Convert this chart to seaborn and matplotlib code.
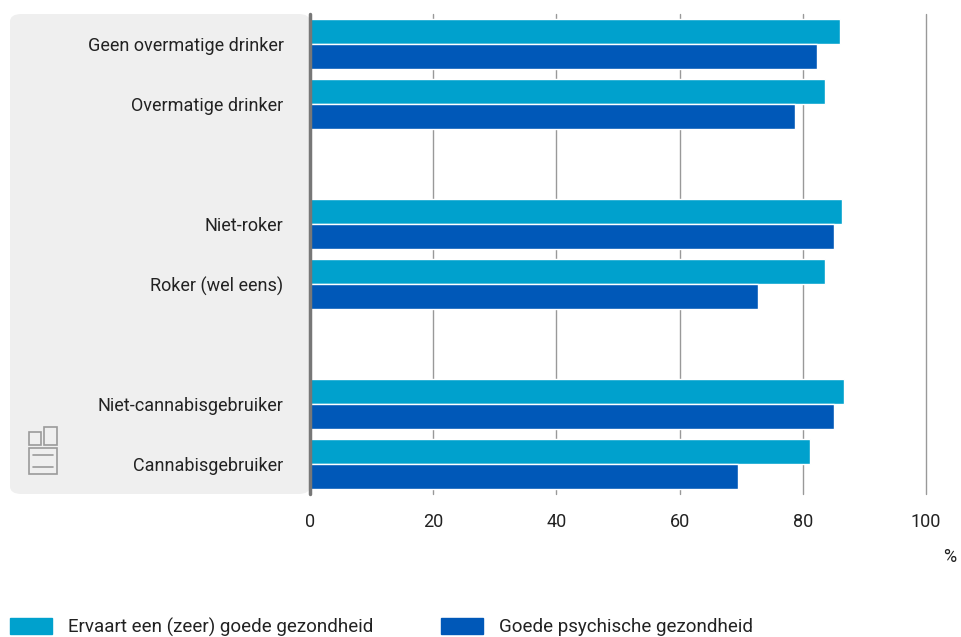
import matplotlib.pyplot as plt
from matplotlib.patches import FancyBboxPatch, Rectangle
import numpy as np
import pandas as pd
import seaborn as sns

categories = ['Geen overmatige drinker', 'Overmatige drinker',
              'Niet-roker', 'Roker (wel eens)',
              'Niet-cannabisgebruiker', 'Cannabisgebruiker']
series = ['Ervaart een (zeer) goede gezondheid', 'Goede psychische gezondheid']
goede_gezondheid = [86.0, 83.6, 86.4, 83.6, 86.7, 81.2]
psychisch = [82.3, 78.7, 85.1, 72.8, 85.1, 69.4]
xticks = [0, 20, 40, 60, 80, 100]

# empty slots between the groups
order = categories[:2] + [' '] + categories[2:4] + ['  '] + categories[4:]

df = pd.DataFrame({
    'categorie': categories * 2,
    'reeks': [series[0]] * 6 + [series[1]] * 6,
    'waarde': goede_gezondheid + psychisch,
})

sns.set_style('white')
plt.rcParams['font.family'] = ['Roboto', 'DejaVu Sans']

W, H = 961, 637
fig = plt.figure(figsize=(W / 100, H / 100), dpi=100)
ax = fig.add_axes([310 / W, 1 - 494 / H, (926 - 310) / W, (494 - 14) / H])

# grey label panel
panel = FancyBboxPatch((10 / W, 1 - 494 / H), 300 / W, 480 / H,
                       boxstyle='round,pad=0,rounding_size=0.012',
                       transform=fig.transFigure, facecolor='#efefef',
                       edgecolor='none', zorder=-5)
fig.patches.append(panel)

sns.barplot(data=df, y='categorie', x='waarde', hue='reeks', order=order,
            hue_order=series, palette=['#00a1cd', '#0058b8'], orient='h',
            saturation=1, width=0.82, edgecolor='white', linewidth=1,
            ax=ax, legend=False)

ax.set_xlim(0, 100)
ax.set_ylim(len(order) - 0.5, -0.5)
ax.set_xticks(xticks)
ax.set_xticklabels([str(t) for t in xticks], fontsize=13, color='#222222')
ax.tick_params(axis='x', length=0, pad=14)
ax.tick_params(axis='y', length=0, pad=19)
for lab in ax.get_yticklabels():
    lab.set_fontsize(13)
    lab.set_color('#222222')
ax.set_xlabel('')
ax.set_ylabel('')
for s in ax.spines.values():
    s.set_visible(False)
ax.set_facecolor('none')
ax.grid(False)
for t in xticks[1:]:
    ax.axvline(t, color='#999999', lw=1, zorder=0, clip_on=False)
ax.axvline(0, color='#777777', lw=2.5, zorder=3, clip_on=False)

fig.text(950 / W, 1 - 557 / H, '%', fontsize=13, color='#222222',
         ha='center', va='center')

# cbs logo (simplified)
lc = '#9a9a9a'
def px(x, y):
    return x / W, 1 - y / H
for (x0, y0, w, h) in [(29, 432, 12, 13), (44, 427, 13, 18), (29, 448, 28, 26)]:
    fig.patches.append(Rectangle(px(x0, y0 + h), w / W, h / H, fill=False,
                                 edgecolor=lc, lw=1.2, transform=fig.transFigure))
for y in [455, 467]:
    fig.lines.append(plt.Line2D([33 / W, 53 / W], [1 - y / H] * 2, color=lc,
                                lw=1.2, transform=fig.transFigure))

handles = [Rectangle((0, 0), 1, 1, color=c) for c in ['#00a1cd', '#0058b8']]
fig.legend(handles, series, loc='center left', bbox_to_anchor=(10 / W, 1 - 627 / H),
           ncol=2, frameon=False, fontsize=13.5, handlelength=2.25,
           handleheight=0.9, handletextpad=0.85, columnspacing=3.6,
           borderpad=0, borderaxespad=0, labelcolor='#222222')

fig.savefig('out.png', dpi=100)
